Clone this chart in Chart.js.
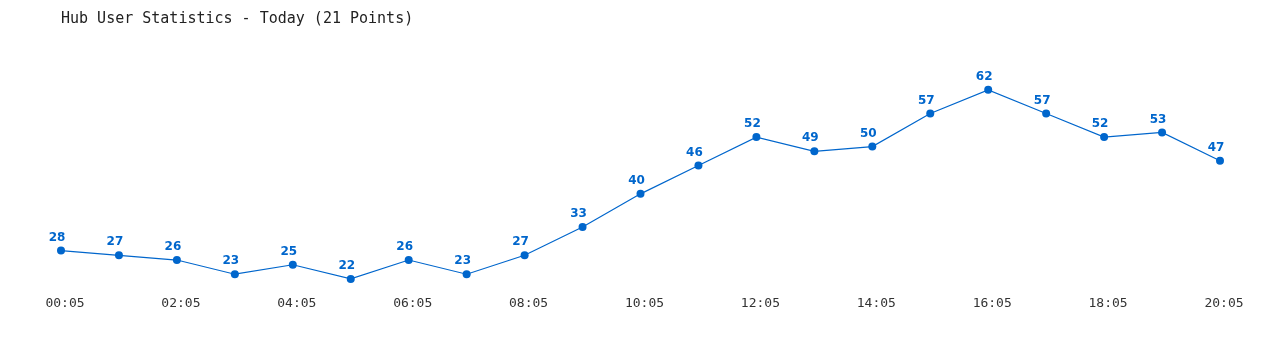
<!DOCTYPE html>
<html>
<head>
<meta charset="utf-8">
<script src="https://cdn.jsdelivr.net/npm/chart.js@4/dist/chart.umd.min.js"></script>
<style>
  html, body { margin: 0; padding: 0; background: #fff; }
  #wrap { width: 1280px; height: 350px; }
</style>
</head>
<body>
<div id="wrap"><canvas id="hubChart" width="1280" height="350"></canvas></div>
<script>
const timeLabels = ['00:05','01:05','02:05','03:05','04:05','05:05','06:05','07:05','08:05','09:05','10:05',
                    '11:05','12:05','13:05','14:05','15:05','16:05','17:05','18:05','19:05','20:05'];
const userCounts = [28, 27, 26, 23, 25, 22, 26, 23, 27, 33, 40, 46, 52, 49, 50, 57, 62, 57, 52, 53, 47];
const titleText = 'Hub User Statistics - Today (21 Points)';

const lineColor = '#0066cc';

// draws the value above each point
const valueLabels = {
    id: 'valueLabels',
    afterDatasetsDraw(chart) {
        const ctx = chart.ctx;
        const meta = chart.getDatasetMeta(0);
        ctx.save();
        ctx.font = 'bold 12px "DejaVu Sans", Verdana, sans-serif';
        ctx.fillStyle = lineColor;
        ctx.textAlign = 'center';
        ctx.textBaseline = 'middle';
        meta.data.forEach((pt, i) => {
            ctx.fillText(String(userCounts[i]), pt.x - 4, pt.y - 13);
        });
        ctx.restore();
    }
};

chart = new Chart(document.getElementById('hubChart').getContext('2d'), {
    type: 'line',
    data: {
        labels: timeLabels,
        datasets: [{
            data: userCounts,
            borderColor: lineColor,
            backgroundColor: lineColor,
            borderWidth: 1.2,
            pointRadius: 4,
            pointBackgroundColor: lineColor,
            pointBorderWidth: 0,
            tension: 0,
            fill: false
        }]
    },
    options: {
        responsive: false,
        animation: false,
        layout: { padding: { left: 61, right: 60, top: 0, bottom: 32 } },
        plugins: {
            legend: { display: false },
            tooltip: { enabled: false },
            title: {
                display: true,
                text: titleText,
                align: 'start',
                color: '#222',
                font: { family: '"DejaVu Sans Mono", "Liberation Mono", monospace', size: 15, weight: 'normal' },
                padding: { top: 10, bottom: 24 }
            }
        },
        scales: {
            x: {
                offset: false,
                grid: { display: false, drawTicks: false },
                border: { display: false },
                ticks: {
                    autoSkip: false,
                    maxRotation: 0,
                    padding: 7,
                    labelOffset: 4,
                    color: '#333',
                    font: { family: '"DejaVu Sans Mono", "Liberation Mono", monospace', size: 13 },
                    callback: function (val, idx) { return idx % 2 === 0 ? timeLabels[idx] : ''; }
                }
            },
            y: {
                display: false,
                min: 20,
                max: 70
            }
        }
    },
    plugins: [valueLabels]
});
</script>
</body>
</html>
